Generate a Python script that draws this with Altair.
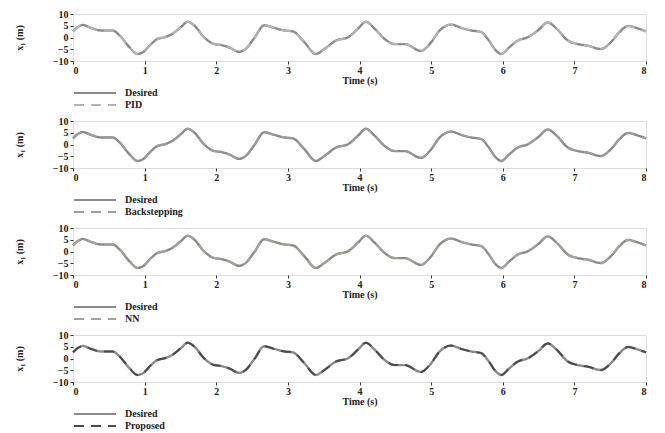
import altair as alt
import pandas as pd

# time (s) and desired trajectory x1 (m)
time_s = [0.00, 0.07, 0.14, 0.25, 0.39, 0.55, 0.65, 0.79, 0.90, 0.97, 1.09, 1.18,
          1.28, 1.39, 1.51, 1.60, 1.69, 1.83, 1.97, 2.07, 2.18, 2.32, 2.41, 2.53,
          2.67, 2.81, 2.95, 3.07, 3.23, 3.39, 3.51, 3.67, 3.84, 3.98, 4.09, 4.21,
          4.35, 4.49, 4.63, 4.86, 4.98, 5.12, 5.28, 5.42, 5.56, 5.70, 5.79, 5.91,
          5.98, 6.09, 6.21, 6.35, 6.49, 6.63, 6.75, 6.91, 7.05, 7.19, 7.37, 7.51,
          7.63, 7.75, 7.89, 8.00]
desired = [2.6, 4.5, 5.3, 4.1, 3.0, 3.0, 0.9, -4.2, -7.0, -6.4, -2.8, -0.6,
           0.1, 1.6, 4.5, 6.7, 5.2, 0.1, -2.8, -3.2, -4.2, -6.1, -4.9, -0.3,
           5.2, 4.1, 3.0, 2.6, -2.0, -7.0, -4.9, -1.3, 0.1, 3.8, 6.7, 3.8,
           -0.6, -2.8, -2.8, -5.7, -2.8, 3.0, 5.5, 4.1, 3.0, 2.3, -0.6, -5.7,
           -7.0, -4.2, -1.3, 0.1, 3.0, 6.4, 3.8, -1.3, -2.8, -3.5, -4.9, -2.0,
           2.3, 4.9, 3.8, 2.6]
# controller outputs overlap the desired trajectory at this resolution
pid = list(desired)
backstepping = list(desired)
nn = list(desired)
proposed = list(desired)

controllers = ["PID", "Backstepping", "NN", "Proposed"]
ctrl_values = [pid, backstepping, nn, proposed]
ctrl_colors = ["#b4b4b4", "#9c9c9c", "#a8a296", "#4a4a4a"]

FONT = "Liberation Serif"
TXT = "#222222"
W, H = 573, 47


def panel(name, vals, ccol):
    d1 = pd.DataFrame({"t": time_s, "x": desired, "s": "Desired"})
    d2 = pd.DataFrame({"t": time_s, "x": vals, "s": name})
    color = alt.Color("s:N", scale=alt.Scale(domain=["Desired", name], range=["#8a8a8a", ccol]),
                      legend=alt.Legend(title=None, orient="none", legendX=0, legendY=73,
                                        direction="vertical", symbolType="M-1,0H7.4",
                                        symbolSize=100, symbolStrokeWidth=2,
                                        labelOffset=40, labelFont=FONT, labelFontSize=10,
                                        labelFontWeight="bold", labelColor=TXT, padding=0,
                                        rowPadding=1))
    dash = alt.StrokeDash("s:N", scale=alt.Scale(domain=["Desired", name], range=[[1, 0], [10, 7]]),
                          legend=alt.Legend(title=None))
    x = alt.X("t:Q", title="Time (s)", scale=alt.Scale(domain=[0, 8], nice=False),
              axis=alt.Axis(values=[0, 1, 2, 3, 4, 5, 6, 7, 8], grid=False, tickSize=3,
                            labelPadding=1, titlePadding=0, labelFont=FONT, titleFont=FONT,
                            labelFontSize=10, titleFontSize=10, labelFontWeight="bold",
                            titleFontWeight="bold", labelColor=TXT, titleColor=TXT,
                            domain=False, tickColor="#333"))
    y = alt.Y("x:Q", title="x₁ (m)", scale=alt.Scale(domain=[-10, 10], nice=False),
              axis=alt.Axis(values=[-10, -5, 0, 5, 10], grid=False, tickSize=3,
                            labelPadding=2, titlePadding=28, labelFont=FONT, titleFont=FONT,
                            labelFontSize=10, titleFontSize=10, labelFontWeight="bold",
                            titleFontWeight="bold", labelColor=TXT, titleColor=TXT,
                            domain=False, tickColor="#333"))
    base_d = alt.Chart(d1).mark_line(strokeWidth=2.4, interpolate="monotone").encode(
        x=x, y=y, color=color, strokeDash=dash)
    base_c = alt.Chart(d2).mark_line(strokeWidth=2.0, interpolate="monotone").encode(
        x=x, y=y, color=color, strokeDash=dash)
    return alt.layer(base_d, base_c).properties(width=W, height=H)


panels = [panel(n, v, c) for n, v, c in zip(controllers, ctrl_values, ctrl_colors)]

chart = alt.vconcat(*panels, spacing=4).resolve_scale(
    color="independent", strokeDash="independent"
).properties(
    padding={"top": 0, "left": 5, "right": 5, "bottom": 0}
).configure_view(stroke="#3a3a3a", strokeWidth=1.5).configure(background="white")

chart.save("out.html", embed_options={"renderer": "svg", "actions": False})
